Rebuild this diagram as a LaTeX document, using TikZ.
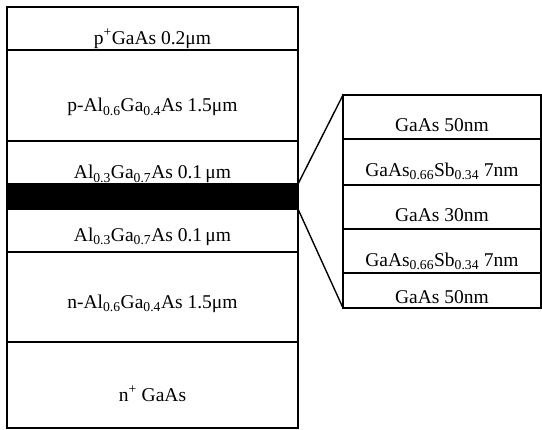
\documentclass[tikz,border=0pt]{standalone}
\usepackage{fontspec}
\setmainfont{Liberation Serif}
\newcommand{\sbs}[1]{\textsubscript{#1}}
\begin{document}
\begin{tikzpicture}[x=1pt,y=-1pt,
  layerbox/.style={draw, line width=1.6pt, inner sep=0pt, outer sep=0pt, rectangle},
  bandbox/.style={fill=black, draw=black, line width=1.6pt, inner sep=0pt, outer sep=0pt, rectangle},
  lbl/.style={font=\fontsize{19.5}{22}\selectfont, inner sep=0pt, anchor=base},
  fan/.style={line width=1.4pt}]
\useasboundingbox (0,0) rectangle (542,430);
% left stack
\node[layerbox, minimum width=291pt, minimum height=43pt] (L1) at (152.5,28.5) {};
\node[layerbox, minimum width=291pt, minimum height=91pt] (L2) at (152.5,95.5) {};
\node[layerbox, minimum width=291pt, minimum height=43pt] (L3) at (152.5,162.5) {};
\node[bandbox, minimum width=291pt, minimum height=25pt] (band) at (152.5,196.5) {};
\node[layerbox, minimum width=291pt, minimum height=43pt] (L5) at (152.5,230.5) {};
\node[layerbox, minimum width=291pt, minimum height=90pt] (L6) at (152.5,297) {};
\node[layerbox, minimum width=291pt, minimum height=86pt] (L7) at (152.5,385) {};
% right stack
\node[layerbox, minimum width=198pt, minimum height=44pt] (R1) at (442,117) {};
\node[layerbox, minimum width=198pt, minimum height=46pt] (R2) at (442,162) {};
\node[layerbox, minimum width=198pt, minimum height=44pt] (R3) at (442,207) {};
\node[layerbox, minimum width=198pt, minimum height=44pt] (R4) at (442,251) {};
\node[layerbox, minimum width=198pt, minimum height=35pt] (R5) at (442,290.5) {};
% fan
\draw[fan] (band.north east) -- (R1.north west);
\draw[fan] (band.south east) -- (R5.south west);
% labels left
\node[lbl] (t1) at (152.5,44.5) {p\textsuperscript{+}GaAs 0.2μm};
\node[lbl] (t2) at (152.5,112) {p-Al\sbs{0.6}Ga\sbs{0.4}As 1.5μm};
\node[lbl] (t3) at (152.5,179) {Al\sbs{0.3}Ga\sbs{0.7}As 0.1\,μm};
\node[lbl] (t5) at (152.5,241.5) {Al\sbs{0.3}Ga\sbs{0.7}As 0.1\,μm};
\node[lbl] (t6) at (152.5,308.5) {n-Al\sbs{0.6}Ga\sbs{0.4}As 1.5μm};
\node[lbl] (t7) at (152.5,401.5) {n\textsuperscript{+} GaAs};
% labels right
\node[lbl] (r1) at (442,131.5) {GaAs 50nm};
\node[lbl] (r2) at (442,176.5) {GaAs\sbs{0.66}Sb\sbs{0.34} 7nm};
\node[lbl] (r3) at (442,222) {GaAs 30nm};
\node[lbl] (r4) at (442,266.5) {GaAs\sbs{0.66}Sb\sbs{0.34} 7nm};
\node[lbl] (r5) at (442,304) {GaAs 50nm};
\end{tikzpicture}
\end{document}
